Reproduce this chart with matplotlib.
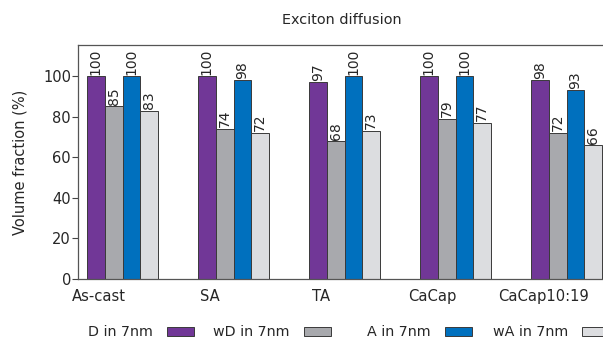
import matplotlib
matplotlib.use("Agg")
import matplotlib.pyplot as plt
import numpy as np

categories = ["As-cast", "SA", "TA", "CaCap", "CaCap10:19"]
series_names = ["D in 7nm", "wD in 7nm", "A in 7nm", "wA in 7nm"]
D_vals = [100, 100, 97, 100, 98]
wD_vals = [85, 74, 68, 79, 72]
A_vals = [100, 98, 100, 100, 93]
wA_vals = [83, 72, 73, 77, 66]
yticks = [0, 20, 40, 60, 80, 100]

colors = ["#713797", "#A8A9AD", "#0070BE", "#DCDDE0"]
series = [D_vals, wD_vals, A_vals, wA_vals]
legend_x_px = [88, 213, 367, 493]

fig = plt.figure(figsize=(6.03, 3.39), dpi=100)
ax = fig.add_axes([78/603, 60/339, 533/603, 234/339])

x = np.arange(len(categories))
w = 0.16
handles = []
for k, (vals, name, c) in enumerate(zip(series, series_names, colors)):
    bars = ax.bar(x + (k - 1.5) * w, vals, width=w, color=c, edgecolor="#3a3a3a",
                  linewidth=0.7, label=name)
    handles.append(bars)
    ax.bar_label(bars, labels=[str(v) for v in vals], rotation=90, padding=1,
                 fontsize=10, color="#262626")

ax.set_xlim(-0.401, 4.4)
ax.set_ylim(0, 115.3)
ax.set_yticks(yticks)
ax.set_yticklabels([str(t) for t in yticks], fontsize=10.5, color="#262626")
ax.set_xticks(x - 0.21)
ax.set_xticklabels(categories, fontsize=10.6, color="#262626")
ax.tick_params(axis="x", length=0, pad=7.5)
ax.tick_params(axis="y", length=4, width=0.8, color="#444444", pad=1)
ax.set_ylabel("Volume fraction (%)", fontsize=10.5, color="#262626", labelpad=11)
for s in ["left", "top", "bottom", "right"]:
    ax.spines[s].set_color("#555555")
    ax.spines[s].set_linewidth(0.9)

fig.text(342/603, 1 - 19.5/339, "Exciton diffusion", ha="center", va="center",
         fontsize=10.4, color="#262626")

for h, name, px in zip(handles, series_names, legend_x_px):
    leg = fig.legend([h], [name], loc="center left",
                     bbox_to_anchor=(px/603, 1 - 332.5/339),
                     frameon=False, markerfirst=False, fontsize=10.25, handlelength=1.9,
                     handleheight=0.55, handletextpad=1.0,
                     borderpad=0, borderaxespad=0)
    for t in leg.get_texts():
        t.set_color("#262626")

fig.savefig("out.png", dpi=100)
